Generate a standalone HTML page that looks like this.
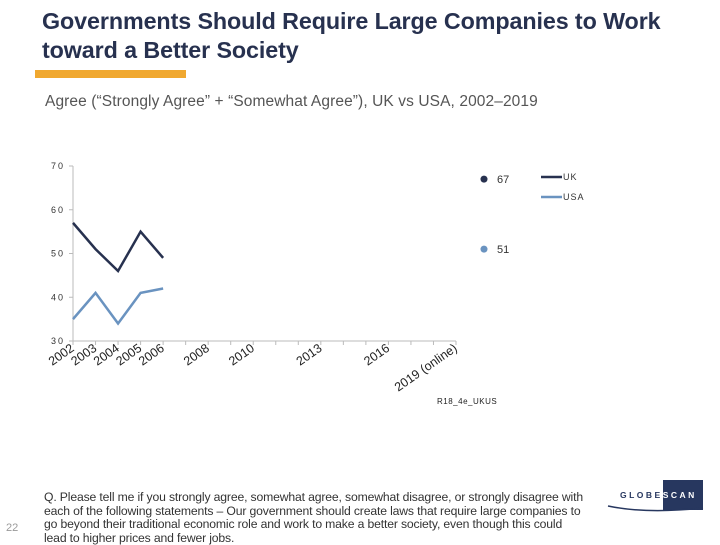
<!DOCTYPE html>
<html><head><meta charset="utf-8"><style>
body{margin:0;width:720px;height:540px;overflow:hidden;background:#fff;font-family:"Liberation Sans",sans-serif;position:relative}
.t{position:absolute;margin:0}
</style></head><body>
<h1 class="t" style="left:42px;top:7px;font-size:23.3px;line-height:29px;color:#27314f;font-weight:bold;letter-spacing:-0.1px">Governments Should Require Large Companies to Work<br>toward a Better Society</h1>
<div class="t" style="left:35px;top:70px;width:151px;height:8px;background:#f0a830"></div>
<div class="t" style="left:45px;top:93px;font-size:15.5px;color:#555;letter-spacing:0.1px">Agree (“Strongly Agree” + “Somewhat Agree”), UK vs USA, 2002–2019</div>
<svg class="t" style="left:0;top:0" width="720" height="470" id="chart"></svg>
<div class="t" style="left:6px;top:522px;font-size:11px;color:#999">22</div>
<div class="t" style="left:44px;top:491px;font-size:12.2px;line-height:13.6px;color:#333;white-space:nowrap;letter-spacing:-0.15px">Q. Please tell me if you strongly agree, somewhat agree, somewhat disagree, or strongly disagree with<br>each of the following statements – Our government should create laws that require large companies to<br>go beyond their traditional economic role and work to make a better society, even though this could<br>lead to higher prices and fewer jobs.</div>
<div class="t" style="left:606px;top:476px;width:100px;height:40px">
<div style="position:absolute;left:57px;top:4px;width:40px;height:30px;background:#27375f"></div>
<div style="position:absolute;left:14px;top:14px;font-size:8.5px;font-weight:bold;letter-spacing:2.5px;color:#27375f">GLOBE<span style="color:#fff">SCAN</span></div>
<svg style="position:absolute;left:0;top:24px" width="100" height="16"><path d="M2 6 Q40 14 97 8" stroke="#27375f" stroke-width="1.5" fill="none"/></svg>
</div>
<script>
const years=["2002","2003","2004","2005","2006","2007","2008","2009","2010","2011","2012","2013","2014","2015","2016","2017","2018","2019 (online)"];
const tickLabels=["2002","2003","2004","2005","2006","2008","2010","2013","2016","2019 (online)"];
const uk=[57,51,46,55,49];
const usa=[35,41,34,41,42];
const uk2019=67, usa2019=51;
const yTicks=[30,40,50,60,70];
const NS="http://www.w3.org/2000/svg";
const svg=document.getElementById('chart');
const x0=73,x1=456,y0=341,y1=166;
const xs=i=>x0+i*(x1-x0)/(years.length-1);
const ys=v=>y0-(v-30)/(40)*(y0-y1);
function mk(t,a){const e=document.createElementNS(NS,t);for(const k in a)e.setAttribute(k,a[k]);svg.appendChild(e);return e;}
let e;
e=mk('line',{x1:x0,y1:y1,x2:x0,y2:y0,stroke:'#bbb'});


e=mk('line',{x1:x0,y1:y0,x2:x1,y2:y0,stroke:'#bbb'});


yTicks.forEach(v=>{
 mk('line',{x1:x0-4,y1:ys(v),x2:x0,y2:ys(v),stroke:'#bbb'});
 e=mk('text',{x:x0-8,y:ys(v)+3,'text-anchor':'end','font-size':9,fill:'#333','letter-spacing':2});
 e.textContent=v;
 
 
});
years.forEach((y,i)=>{
 mk('line',{x1:xs(i),y1:y0,x2:xs(i),y2:y0+4,stroke:'#bbb'});
 if(tickLabels.includes(y)){
  e=mk('text',{x:xs(i)+2,y:y0+9,'text-anchor':'end','font-size':12.5,fill:'#222',transform:`rotate(-35 ${xs(i)+2} ${y0+9})`});
  e.textContent=y;
  
  
 }
});
function line(d,c,name){
 e=mk('polyline',{points:d.map((v,i)=>xs(i)+','+ys(v)).join(' '),fill:'none',stroke:c,'stroke-width':2.5});
 
 
}
line(uk,'#27314f','uk-line');
line(usa,'#6a93c0','usa-line');
const li=years.length-1;
e=mk('circle',{cx:xs(li)+28,cy:ys(uk2019),r:3.5,fill:'#27314f'});


e=mk('text',{x:xs(li)+41,y:ys(uk2019)+4,'font-size':11,fill:'#333'});e.textContent=uk2019;


e=mk('circle',{cx:xs(li)+28,cy:ys(usa2019),r:3.5,fill:'#6a93c0'});


e=mk('text',{x:xs(li)+41,y:ys(usa2019)+4,'font-size':11,fill:'#333'});e.textContent=usa2019;


[['UK','#27314f',177],['USA','#6a93c0',197]].forEach(([n,c,y])=>{
 e=mk('line',{x1:541,y1:y,x2:562,y2:y,stroke:c,'stroke-width':2.5});
 
 
 e=mk('text',{x:563,y:y+3,'font-size':9,fill:'#333','letter-spacing':1});e.textContent=n;
 
 
});
e=mk('text',{x:437,y:404,'font-size':8,fill:'#222','letter-spacing':0.5});e.textContent='R18_4e_UKUS';


</script>
</body></html>
